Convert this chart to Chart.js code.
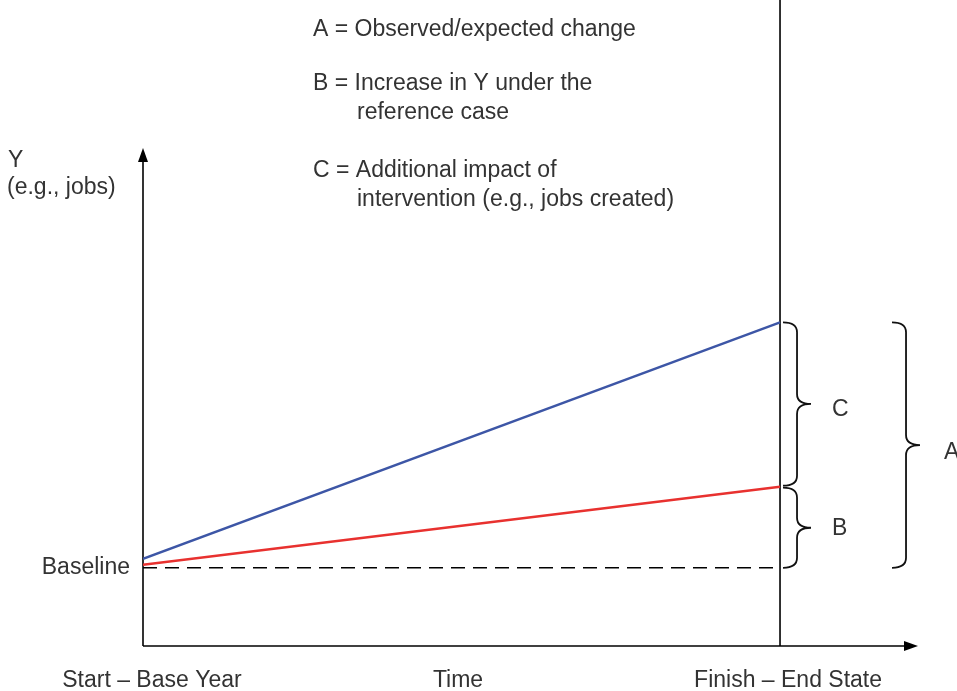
<!DOCTYPE html>
<html>
<head>
<meta charset="utf-8">
<script src="https://cdn.jsdelivr.net/npm/chart.js@4.4.0/dist/chart.umd.min.js"></script>
<style>
    body { margin: 0; background: #fff; }
    #wrap { width: 957px; height: 691px; position: relative; }
</style>
</head>
<body>
<div id="wrap"><canvas id="chart"></canvas></div>
<script>
// ============ DATA ============
const timePoints = [0, 1];                       // start, finish
const interventionValues = [17.5, 65];           // blue line
const referenceValues = [16.3, 32];              // red line
const baselineValues = [15.7, 15.7];             // dashed line
const xTickLabels = ['Start \u2013 Base Year', 'Time', 'Finish \u2013 End State'];
const xTickPositions = [0.014, 0.4945, 1.0126];
const legendLines = [
    ['A = Observed/expected change'],
    ['B = Increase in Y under the', 'reference case'],
    ['C = Additional impact of', 'intervention (e.g., jobs created)']
];

const FONT = '23px "Liberation Sans", Arial, sans-serif';
const TEXT = '#333';

function toPoints(values) {
    return timePoints.map((x, i) => ({ x, y: values[i] }));
}

// curly brace opening to the left, tip pointing right
function drawBrace(ctx, x, top, bottom, depth) {
    const mid = (top + bottom) / 2;
    const r = 10;
    const xv = x + depth * 0.5;
    const tip = x + depth;
    ctx.beginPath();
    ctx.moveTo(x, top);
    ctx.quadraticCurveTo(xv, top, xv, top + r);
    ctx.lineTo(xv, mid - r);
    ctx.quadraticCurveTo(xv, mid, tip, mid);
    ctx.quadraticCurveTo(xv, mid, xv, mid + r);
    ctx.lineTo(xv, bottom - r);
    ctx.quadraticCurveTo(xv, bottom, x, bottom);
    ctx.stroke();
}

// ============ ANNOTATION PLUGIN ============
const diagramPlugin = {
    id: 'diagram',
    beforeDatasetsDraw(chart) {
        const { ctx, chartArea, scales } = chart;
        const x0 = chartArea.left, y0 = chartArea.bottom;
        const xEnd = scales.x.getPixelForValue(1);
        ctx.save();
        ctx.strokeStyle = '#000';
        ctx.fillStyle = '#000';
        ctx.lineWidth = 1.6;

        // y axis + arrow
        ctx.beginPath();
        ctx.moveTo(x0, y0);
        ctx.lineTo(x0, chartArea.top + 10);
        ctx.stroke();
        ctx.beginPath();
        ctx.moveTo(x0, chartArea.top);
        ctx.lineTo(x0 - 5, chartArea.top + 14);
        ctx.lineTo(x0 + 5, chartArea.top + 14);
        ctx.closePath();
        ctx.fill();

        // x axis + arrow
        ctx.beginPath();
        ctx.moveTo(x0, y0);
        ctx.lineTo(chartArea.right - 10, y0);
        ctx.stroke();
        ctx.beginPath();
        ctx.moveTo(chartArea.right, y0);
        ctx.lineTo(chartArea.right - 14, y0 - 5);
        ctx.lineTo(chartArea.right - 14, y0 + 5);
        ctx.closePath();
        ctx.fill();

        // end state vertical line
        ctx.beginPath();
        ctx.moveTo(xEnd, 0);
        ctx.lineTo(xEnd, y0);
        ctx.stroke();
        ctx.restore();
    },
    afterDatasetsDraw(chart) {
        const { ctx, chartArea, scales } = chart;
        const xEnd = scales.x.getPixelForValue(1);
        const yBlue = scales.y.getPixelForValue(interventionValues[1]);
        const yRed = scales.y.getPixelForValue(referenceValues[1]);
        const yBase = scales.y.getPixelForValue(baselineValues[1]);

        ctx.save();
        ctx.strokeStyle = '#111';
        ctx.lineWidth = 1.8;
        drawBrace(ctx, xEnd + 3, yBlue, yRed - 1, 28);
        drawBrace(ctx, xEnd + 3, yRed + 1, yBase, 28);
        drawBrace(ctx, xEnd + 112, yBlue, yBase, 28);

        ctx.font = FONT;
        ctx.fillStyle = TEXT;
        ctx.textBaseline = 'middle';
        ctx.textAlign = 'left';
        ctx.fillText('C', xEnd + 52, (yBlue + yRed) / 2 + 5);
        ctx.fillText('B', xEnd + 52, (yRed + yBase) / 2 + 1);
        ctx.fillText('A', xEnd + 164, (yBlue + yBase) / 2 + 8);

        // legend block
        let y = 30;
        legendLines.forEach(lines => {
            ctx.fillText(lines[0], 313, y);
            if (lines[1]) ctx.fillText(lines[1], 357, y + 29);
            y += lines[1] ? 87 : 54;
        });

        // axis titles
        ctx.fillText('Y', 8, 161);
        ctx.fillText('(e.g., jobs)', 7, 188);
        ctx.textAlign = 'right';
        ctx.fillText('Baseline', chartArea.left - 13, yBase);

        // x labels
        ctx.textAlign = 'center';
        xTickLabels.forEach((label, i) => {
            ctx.fillText(label, scales.x.getPixelForValue(xTickPositions[i]), chartArea.bottom + 35);
        });
        ctx.restore();
    }
};

// ============ CHART ============
new Chart(document.getElementById('chart'), {
    type: 'line',
    data: {
        datasets: [
            {
                label: 'Baseline',
                data: toPoints(baselineValues),
                borderColor: '#000',
                borderWidth: 1.6,
                borderDash: [14, 8],
                pointRadius: 0
            },
            {
                label: 'Reference case',
                data: toPoints(referenceValues),
                borderColor: '#e8312f',
                borderWidth: 2.5,
                pointRadius: 0
            },
            {
                label: 'With intervention',
                data: toPoints(interventionValues),
                borderColor: '#3d56a6',
                borderWidth: 2.5,
                pointRadius: 0
            }
        ]
    },
    options: {
        responsive: true,
        maintainAspectRatio: false,
        animation: false,
        layout: { padding: { left: 143, right: 39, top: 148, bottom: 45 } },
        plugins: { legend: { display: false }, tooltip: { enabled: false } },
        scales: {
            x: { type: 'linear', min: 0, max: 1.2166, display: false },
            y: { min: 0, max: 100, display: false }
        }
    },
    plugins: [diagramPlugin]
});
</script>
</body>
</html>
